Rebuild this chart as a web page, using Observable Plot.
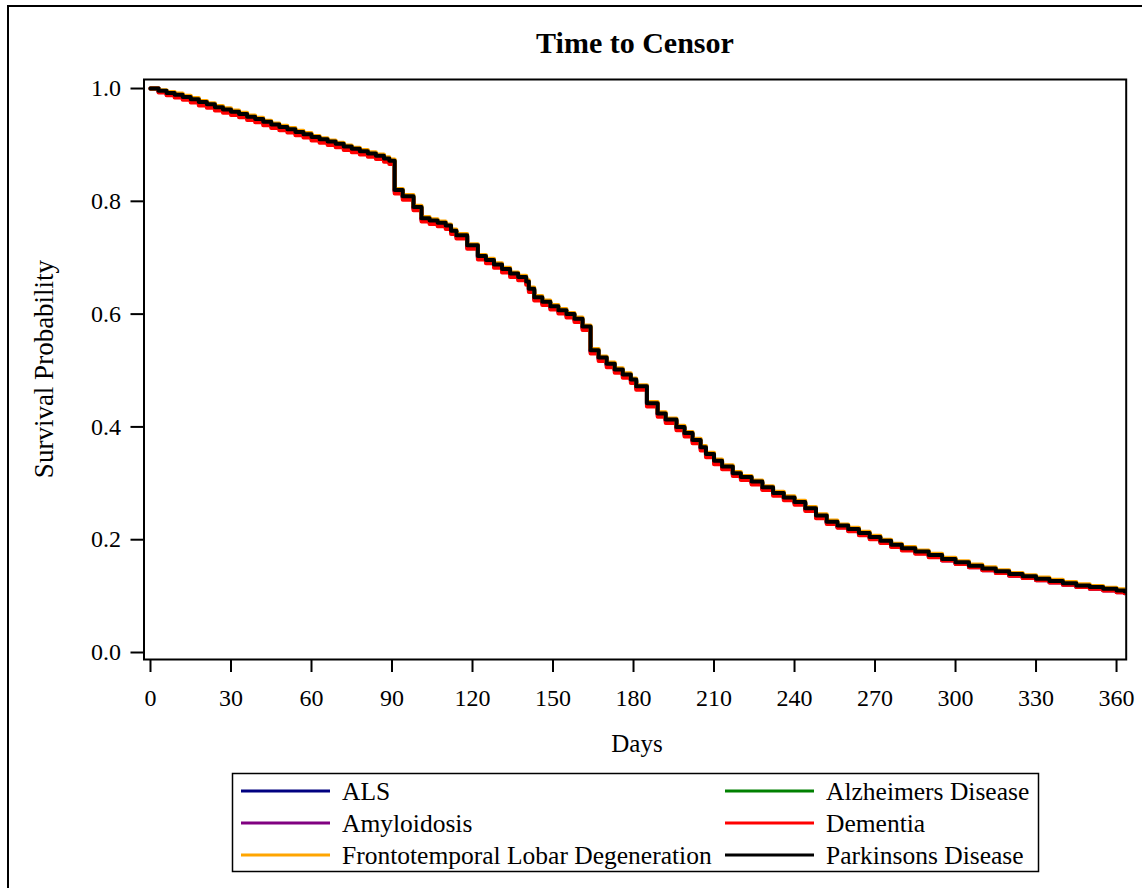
<!DOCTYPE html>
<html>
<head>
<meta charset="utf-8">
<script src="https://cdn.jsdelivr.net/npm/d3@7"></script>
<script src="https://cdn.jsdelivr.net/npm/@observablehq/plot@0.6"></script>
<style>
  html, body { margin: 0; padding: 0; background: #fff; }
  #page { position: relative; width: 1142px; height: 888px; overflow: hidden; background: #fff; }
  #chart, #overlay { position: absolute; left: 0; top: 0; }
  #overlay { pointer-events: none; }
</style>
</head>
<body>
<div id="page">
  <div id="chart"></div>
  <div id="overlay"></div>
</div>
<script>
const titleText = "Time to Censor";
const xLabel = "Days";
const yLabel = "Survival Probability";
const xTicks = [0, 30, 60, 90, 120, 150, 180, 210, 240, 270, 300, 330, 360];
const yTicks = [0, 0.2, 0.4, 0.6, 0.8, 1.0];

const groups = ["ALS", "Alzheimers Disease", "Amyloidosis", "Dementia", "Frontotemporal Lobar Degeneration", "Parkinsons Disease"];
const colors = ["#000080", "#008000", "#800080", "#FF0000", "#FFA500", "#000000"];

const days = [0,3,6,9,12,15,18,21,24,27,30,33,36,39,42,45,48,51,54,57,60,63,66,69,72,75,78,81,84,87,
  89,
  91,94,98,101,104,107,110,112,114,118,
  122,125,128,131,134,137,140,141,143,146,
  149,152,155,158,161,164,167,170,173,176,
  179,181,185,189,192,196,199,202,205,207,
  210,213,217,220,224,228,232,236,240,244,
  248,252,256,260,264,268,272,276,280,285,
  290,295,300,305,310,315,320,325,330,335,
  340,345,350,355,360,363];

const alsSurv = [1.000,.995,.990,.987,.983,.979,.974,.970,.965,.961,
  .957,.953,.948,.944,.939,.934,.930,.926,.921,.917,
  .912,.908,.904,.900,.895,.891,.887,.883,.879,.874,
  .870,
  .818,.807,.788,.768,.764,.760,.755,.746,.738,.720,
  .701,.694,.686,.678,.670,.664,.656,.643,.628,.620,
  .612,.605,.598,.590,.576,.534,.521,.510,.500,.491,
  .482,.470,.440,.422,.411,.398,.387,.375,.362,.350,
  .338,.328,.316,.309,.301,.291,.281,.273,.265,.254,
  .241,.230,.223,.217,.210,.203,.196,.189,.183,.177,
  .171,.164,.158,.152,.147,.142,.137,.133,.129,.125,
  .121,.117,.114,.111,.108,.106];

const alzSurv = [1.000,.995,.991,.988,.984,.980,.975,.971,.966,.962,
  .958,.954,.949,.945,.940,.935,.931,.927,.922,.918,
  .913,.909,.905,.901,.896,.892,.888,.884,.880,.875,
  .871,
  .819,.808,.789,.769,.765,.761,.756,.747,.739,.721,
  .702,.695,.687,.679,.671,.665,.657,.644,.629,.621,
  .613,.606,.599,.591,.577,.535,.522,.511,.501,.492,
  .483,.471,.441,.423,.412,.399,.388,.376,.363,.351,
  .339,.329,.317,.310,.302,.292,.282,.274,.266,.255,
  .242,.231,.224,.218,.211,.204,.197,.190,.184,.178,
  .172,.165,.159,.153,.148,.143,.138,.134,.130,.126,
  .122,.118,.115,.112,.109,.107];

const amySurv = [1.000,.994,.989,.986,.982,.978,.973,.969,.964,.960,
  .956,.952,.947,.943,.938,.933,.929,.925,.920,.916,
  .911,.907,.903,.899,.894,.890,.886,.882,.878,.873,
  .869,
  .817,.806,.787,.767,.763,.759,.754,.745,.737,.719,
  .700,.693,.685,.677,.669,.663,.655,.642,.627,.619,
  .611,.604,.597,.589,.575,.533,.520,.509,.499,.490,
  .481,.469,.439,.421,.410,.397,.386,.374,.361,.349,
  .337,.327,.315,.308,.300,.290,.280,.272,.264,.253,
  .240,.229,.222,.216,.209,.202,.195,.188,.182,.176,
  .170,.163,.157,.151,.146,.141,.136,.132,.128,.124,
  .120,.116,.113,.110,.107,.105];

const demSurv = [1.000,.993,.988,.984,.980,.975,.970,.966,.961,.957,
  .953,.949,.944,.940,.935,.930,.926,.922,.917,.913,
  .908,.904,.900,.896,.891,.887,.883,.879,.875,.870,
  .866,
  .814,.803,.784,.764,.760,.756,.751,.742,.734,.716,
  .697,.690,.682,.674,.666,.660,.652,.639,.624,.616,
  .608,.601,.594,.586,.572,.530,.517,.506,.496,.487,
  .478,.466,.436,.418,.407,.394,.383,.371,.358,.346,
  .334,.325,.313,.306,.298,.288,.278,.270,.262,.251,
  .238,.228,.221,.215,.208,.201,.194,.187,.181,.175,
  .169,.163,.157,.151,.146,.141,.136,.132,.128,.124,
  .120,.116,.113,.110,.107,.105];

const ftldSurv = [1.000,.997,.994,.991,.987,.983,.978,.974,.969,.965,
  .961,.957,.952,.948,.943,.938,.934,.930,.925,.921,
  .916,.912,.908,.904,.899,.895,.891,.887,.883,.878,
  .874,
  .822,.811,.792,.772,.768,.764,.759,.750,.742,.724,
  .705,.698,.690,.682,.674,.668,.660,.647,.632,.624,
  .616,.609,.602,.594,.580,.538,.525,.514,.504,.495,
  .486,.474,.444,.426,.415,.402,.391,.379,.366,.354,
  .342,.332,.320,.313,.305,.295,.285,.277,.269,.258,
  .245,.234,.227,.221,.214,.207,.200,.193,.187,.181,
  .175,.168,.162,.156,.151,.146,.141,.137,.133,.129,
  .125,.121,.118,.115,.112,.110];

const pdSurv = [1.000,.996,.992,.989,.985,.981,.976,.972,.967,.963,
  .959,.955,.950,.946,.941,.936,.932,.928,.923,.919,
  .914,.910,.906,.902,.897,.893,.889,.885,.881,.876,
  .872,
  .820,.809,.790,.770,.766,.762,.757,.748,.740,.722,
  .703,.696,.688,.680,.672,.666,.658,.645,.630,.622,
  .614,.607,.600,.592,.578,.536,.523,.512,.502,.493,
  .484,.472,.442,.424,.413,.400,.389,.377,.364,.352,
  .340,.330,.318,.311,.303,.293,.283,.275,.267,.256,
  .243,.232,.225,.219,.212,.205,.198,.191,.185,.179,
  .173,.166,.160,.154,.149,.144,.139,.135,.131,.127,
  .123,.119,.116,.113,.110,.108];

const seriesValues = [alsSurv, alzSurv, amySurv, demSurv, ftldSurv, pdSurv];

const lineMarks = groups.map((g, i) => {
  const rows = days.map((d, j) => ({group: g, day: d, surv: seriesValues[i][j]}));
  return Plot.line(rows, {x: "day", y: "surv", stroke: "group", curve: "step-after", strokeWidth: 4});
});

const chart = Plot.plot({
  width: 1142,
  height: 720,
  marginLeft: 143.5,
  marginRight: 16.3,
  marginTop: 79,
  marginBottom: 61,
  x: {domain: [-2.42, 363.6]},
  y: {domain: [-0.0124, 1.016]},
  color: {domain: groups, range: colors},
  style: {fontFamily: "'Liberation Serif', 'Times New Roman', serif", fontSize: "24px", background: "transparent", color: "#000", overflow: "visible"},
  marks: [
    ...lineMarks,
    Plot.frame({stroke: "#000", strokeWidth: 2}),
    Plot.axisX({ticks: xTicks, tickSize: 13, tickPadding: 16, strokeWidth: 2, label: null, fontSize: 24}),
    Plot.axisY({ticks: yTicks, tickSize: 13, tickPadding: 10, strokeWidth: 2, label: null, fontSize: 24, tickFormat: d3.format(".1f")})
  ]
});
document.getElementById("chart").appendChild(chart);

// Overlay: title, axis labels, legend, outer border
const W = 1142, H = 888;
const svg = d3.create("svg").attr("width", W).attr("height", H)
  .style("font-family", "'Liberation Serif', 'Times New Roman', serif");

svg.append("rect").attr("x", 8).attr("y", 6).attr("width", 1300).attr("height", 1100)
  .attr("fill", "none").attr("stroke", "#000").attr("stroke-width", 2);

svg.append("text").attr("x", 635).attr("y", 53).attr("text-anchor", "middle")
  .attr("font-size", 30).attr("font-weight", "bold").text(titleText);

svg.append("text").attr("x", 637).attr("y", 752).attr("text-anchor", "middle")
  .attr("font-size", 25).text(xLabel);

svg.append("text").attr("transform", "translate(53,369) rotate(-90)").attr("text-anchor", "middle")
  .attr("font-size", 27).text(yLabel);

// legend box
svg.append("rect").attr("x", 232.5).attr("y", 773.5).attr("width", 806).attr("height", 98)
  .attr("fill", "none").attr("stroke", "#000").attr("stroke-width", 1.5);

const legendOrder = [0, 2, 4, 1, 3, 5]; // column 1: ALS, Amyloidosis, FTLD; column 2: Alzheimers, Dementia, Parkinsons
const rowY = [791, 823, 855];
const colX = [241, 725];
legendOrder.forEach((gi, k) => {
  const col = Math.floor(k / 3), row = k % 3;
  const x0 = colX[col], y0 = rowY[row];
  svg.append("line").attr("x1", x0).attr("x2", x0 + 89).attr("y1", y0).attr("y2", y0)
    .attr("stroke", colors[gi]).attr("stroke-width", 3);
  svg.append("text").attr("x", x0 + 101).attr("y", y0 + 9).attr("font-size", 25.5).text(groups[gi]);
});

document.getElementById("overlay").appendChild(svg.node());
</script>
</body>
</html>
